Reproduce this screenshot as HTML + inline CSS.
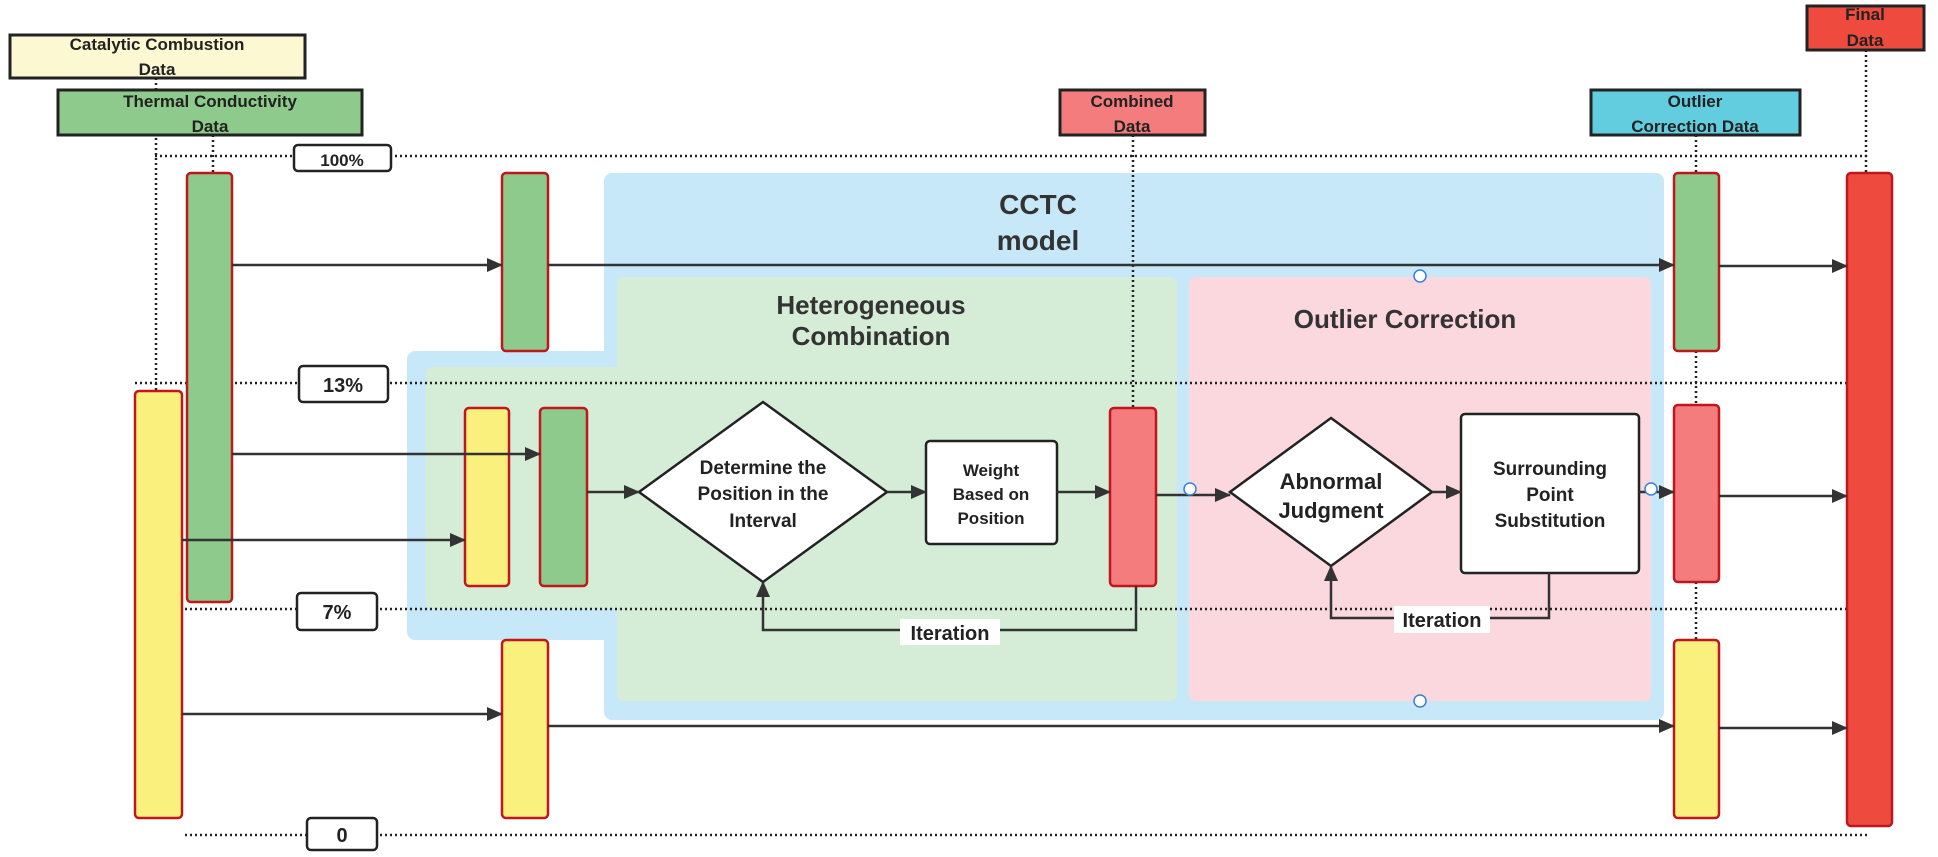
<!DOCTYPE html>
<html><head><meta charset="utf-8"><style>
html,body{margin:0;padding:0;background:#fff;}
svg{display:block;font-family:"Liberation Sans",sans-serif;}
</style></head><body>
<svg width="1938" height="857" viewBox="0 0 1938 857" xmlns="http://www.w3.org/2000/svg">
<defs>
<marker id="a" markerWidth="10" markerHeight="10" refX="9" refY="5" orient="auto" markerUnits="userSpaceOnUse"><path d="M0,0 L10,5 L0,10 z" fill="#333"/></marker>
<marker id="b" markerWidth="16" markerHeight="14" refX="15" refY="7" orient="auto" markerUnits="userSpaceOnUse"><path d="M0,0 L16,7 L0,14 z" fill="#333"/></marker>
</defs>
<!-- regions -->
<path d="M612,173 H1656 a8,8 0 0 1 8,8 V712 a8,8 0 0 1 -8,8 H612 a8,8 0 0 1 -8,-8 V640 H415 a8,8 0 0 1 -8,-8 V359 a8,8 0 0 1 8,-8 H604 V181 a8,8 0 0 1 8,-8z" fill="#c6e8f8"/>
<path d="M623,277 H1171 a6,6 0 0 1 6,6 V695 a6,6 0 0 1 -6,6 H623 a6,6 0 0 1 -6,-6 V609 H432 a6,6 0 0 1 -6,-6 V373 a6,6 0 0 1 6,-6 H617 V283 a6,6 0 0 1 6,-6z" fill="#d5ecd6"/>
<rect x="1189" y="277" width="462" height="424" rx="6" fill="#fbd7de"/>
<!-- dotted lines -->
<g stroke="#222" stroke-width="2.5" stroke-dasharray="2,3" fill="none">
<line x1="155" y1="156" x2="1869" y2="156"/>
<line x1="135" y1="383" x2="1850" y2="383"/>
<line x1="135" y1="609" x2="1850" y2="609"/>
<line x1="185" y1="835" x2="1869" y2="835"/>
<line x1="156" y1="78" x2="156" y2="391"/>
<line x1="213" y1="135" x2="213" y2="173"/>
<line x1="1133" y1="135" x2="1133" y2="408"/>
<line x1="1696" y1="135" x2="1696" y2="173"/>
<line x1="1696" y1="351" x2="1696" y2="405"/>
<line x1="1696" y1="582" x2="1696" y2="640"/>
<line x1="1866" y1="50" x2="1866" y2="173"/>
</g>
<!-- header boxes -->
<g stroke="#222" stroke-width="3" font-weight="bold" font-size="17" fill="#222" text-anchor="middle">
<rect x="10" y="35" width="295" height="43" fill="#fcf8d2"/>
<rect x="58" y="90" width="304" height="45" fill="#8dca8b"/>
<rect x="1060" y="90" width="145" height="45" fill="#f47c7c"/>
<rect x="1591" y="90" width="209" height="45" fill="#63cde0"/>
<rect x="1807" y="6" width="117" height="44" fill="#ee4a3e"/>
</g>
<g font-weight="bold" font-size="17" fill="#222" text-anchor="middle">
<text x="157" y="50">Catalytic Combustion</text><text x="157" y="75">Data</text>
<text x="210" y="107">Thermal Conductivity</text><text x="210" y="132">Data</text>
<text x="1132" y="107">Combined</text><text x="1132" y="132">Data</text>
<text x="1695" y="107">Outlier</text><text x="1695" y="132">Correction Data</text>
<text x="1865" y="20">Final</text><text x="1865" y="46">Data</text>
</g>
<!-- percent labels -->
<g stroke="#222" stroke-width="2.5" fill="#fff">
<rect x="294" y="145" width="97" height="26" rx="4"/>
<rect x="299" y="366" width="89" height="36" rx="4"/>
<rect x="297" y="593" width="80" height="37" rx="4"/>
<rect x="307" y="818" width="70" height="32" rx="4"/>
</g>
<g font-size="20" fill="#222" text-anchor="middle" font-weight="bold">
<text x="342" y="166" font-size="17">100%</text>
<text x="343" y="392">13%</text>
<text x="337" y="619">7%</text>
<text x="342" y="842">0</text>
</g>
<!-- bars -->
<g stroke="#c0161c" stroke-width="2.5">
<rect x="187" y="173" width="45" height="429" rx="4" fill="#8dca8b"/>
<rect x="135" y="391" width="47" height="427" rx="4" fill="#faf07e"/>
<rect x="502" y="173" width="46" height="178" rx="4" fill="#8dca8b"/>
<rect x="465" y="408" width="44" height="178" rx="4" fill="#faf07e"/>
<rect x="540" y="408" width="47" height="178" rx="4" fill="#8dca8b"/>
<rect x="502" y="640" width="46" height="178" rx="4" fill="#faf07e"/>
<rect x="1110" y="408" width="46" height="178" rx="4" fill="#f47c7c"/>
<rect x="1674" y="173" width="45" height="178" rx="4" fill="#8dca8b"/>
<rect x="1674" y="405" width="45" height="177" rx="4" fill="#f47c7c"/>
<rect x="1674" y="640" width="45" height="178" rx="4" fill="#faf07e"/>
<rect x="1847" y="173" width="45" height="653" rx="4" fill="#ee4a3e"/>
</g>
<!-- titles -->
<g font-weight="bold" fill="#333" text-anchor="middle">
<text x="1038" y="214" font-size="28">CCTC</text>
<text x="1038" y="250" font-size="28">model</text>
<text x="871" y="314" font-size="26">Heterogeneous</text>
<text x="871" y="345" font-size="26">Combination</text>
<text x="1405" y="328" font-size="26">Outlier Correction</text>
</g>
<!-- process shapes -->
<g stroke="#222" stroke-width="2.5" fill="#fff">
<polygon points="763,402 887,492 763,582 639,492"/>
<rect x="926" y="441" width="131" height="103" rx="4"/>
<polygon points="1331,418 1432,492 1331,566 1230,492"/>
<rect x="1461" y="414" width="178" height="159" rx="4"/>
</g>
<g font-weight="bold" fill="#222" text-anchor="middle">
<text x="763" y="474" font-size="19">Determine the</text>
<text x="763" y="500" font-size="19">Position in the</text>
<text x="763" y="527" font-size="19">Interval</text>
<text x="991" y="476" font-size="17">Weight</text>
<text x="991" y="500" font-size="17">Based on</text>
<text x="991" y="524" font-size="17">Position</text>
<text x="1331" y="489" font-size="22">Abnormal</text>
<text x="1331" y="518" font-size="22">Judgment</text>
<text x="1550" y="475" font-size="19">Surrounding</text>
<text x="1550" y="501" font-size="19">Point</text>
<text x="1550" y="527" font-size="19">Substitution</text>
</g>
<!-- arrows -->
<g stroke="#333" stroke-width="2.5" fill="none" marker-end="url(#b)">
<line x1="232" y1="265" x2="502" y2="265"/>
<line x1="548" y1="265" x2="1674" y2="265"/>
<line x1="1719" y1="266" x2="1847" y2="266"/>
<line x1="232" y1="454" x2="540" y2="454"/>
<line x1="182" y1="540" x2="465" y2="540"/>
<line x1="587" y1="492" x2="639" y2="492"/>
<line x1="887" y1="492" x2="926" y2="492"/>
<line x1="1057" y1="492" x2="1110" y2="492"/>
<line x1="1156" y1="495" x2="1230" y2="495"/>
<line x1="1432" y1="492" x2="1461" y2="492"/>
<line x1="1639" y1="492" x2="1674" y2="492"/>
<line x1="1719" y1="496" x2="1847" y2="496"/>
<line x1="182" y1="714" x2="502" y2="714"/>
<line x1="548" y1="726" x2="1674" y2="726"/>
<line x1="1719" y1="728" x2="1847" y2="728"/>
<polyline points="1136,586 1136,630 763,630 763,582"/>
<polyline points="1549,573 1549,618 1331,618 1331,566"/>
</g>
<rect x="900" y="619" width="100" height="26" fill="#fff"/>
<rect x="1394" y="606" width="96" height="27" fill="#fff"/>
<g font-weight="bold" font-size="20" fill="#222" text-anchor="middle">
<text x="950" y="640">Iteration</text>
<text x="1442" y="627">Iteration</text>
</g>
<g stroke="#3a7fd5" stroke-width="1.5" fill="#fff">
<circle cx="1420" cy="276" r="6"/>
<circle cx="1420" cy="701" r="6"/>
<circle cx="1190" cy="489" r="6"/>
<circle cx="1651" cy="489" r="6"/>
</g>
</svg>
</body></html>
